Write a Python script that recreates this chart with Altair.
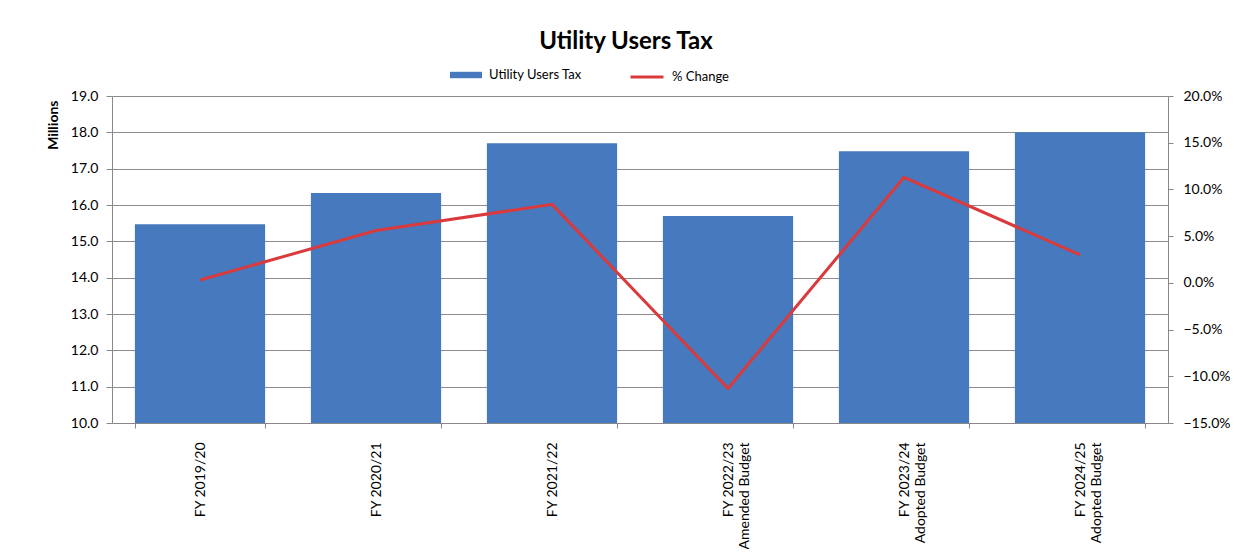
import altair as alt
import pandas as pd

# ---- data ----
categories = [
    "FY 2019/20",
    "FY 2020/21",
    "FY 2021/22",
    "FY 2022/23\nAmended Budget",
    "FY 2023/24\nAdopted Budget",
    "FY 2024/25\nAdopted Budget",
]
tax_millions = [15.47, 16.33, 17.70, 15.70, 17.48, 18.00]
pct_change = [0.003, 0.056, 0.084, -0.113, 0.113, 0.030]

left_ticks = [10.0, 11.0, 12.0, 13.0, 14.0, 15.0, 16.0, 17.0, 18.0, 19.0]
right_ticks = [-0.15, -0.10, -0.05, 0.0, 0.05, 0.10, 0.15, 0.20]

bar_series = "Utility Users Tax"
line_series = "% Change"

df = pd.DataFrame({
    "category": categories,
    "tax": tax_millions,
    "pct": pct_change,
    "s1": bar_series,
    "s2": line_series,
})

FONT = "Lato"
BLUE = "#4679BE"
RED = "#DB3A3C"
AXIS_GRAY = "#888888"
GRID_GRAY = "#8C8C8C"

x_enc = alt.X(
    "category:N",
    sort=categories,
    title=None,
    scale=alt.Scale(paddingInner=0.26, paddingOuter=0.13),
    axis=alt.Axis(
        labelAngle=-90,
        labelExpr="split(datum.label, '\\n')",
        tickBand="extent",
        tickSize=5,
        labelPadding=14,
        labelFont=FONT,
        labelFontSize=14,
        labelColor="#000000",
        labelLineHeight=16,
        domainColor=AXIS_GRAY,
        tickColor=AXIS_GRAY,
    ),
)

bars = alt.Chart(df).mark_bar(color=BLUE).encode(
    x=x_enc,
    y=alt.Y(
        "tax:Q",
        title="Millions",
        scale=alt.Scale(domain=[10, 19], zero=False, nice=False),
        axis=alt.Axis(
            values=left_ticks,
            format=".1f",
            grid=True,
            gridColor=GRID_GRAY,
            gridWidth=1,
            tickSize=6,
            labelPadding=8,
            labelFont=FONT,
            labelFontSize=14,
            labelColor="#000000",
            domainColor=AXIS_GRAY,
            tickColor=AXIS_GRAY,
            titleFont=FONT,
            titleFontSize=14,
            titleFontWeight="bold",
            titleColor="#000000",
            titleAnchor="end",
            titlePadding=10,
            titleY=4,
        ),
    ),
    y2=alt.datum(10),
    fill=alt.Fill(
        "s1:N",
        scale=alt.Scale(domain=[bar_series], range=[BLUE]),
        legend=alt.Legend(
            title=None,
            orient="none",
            legendX=338,
            legendY=-37,
            direction="horizontal",
            symbolType="M-1,-0.2H1V0.2H-1Z",
            symbolSize=1024,
            symbolStrokeWidth=0,
            labelFont=FONT,
            labelFontSize=13,
            labelColor="#000000",
            labelOffset=7,
            padding=0,
        ),
    ),
)

line = alt.Chart(df).mark_line(strokeWidth=3, color=RED).encode(
    x=x_enc,
    y=alt.Y(
        "pct:Q",
        title=None,
        scale=alt.Scale(domain=[-0.15, 0.20], nice=False, zero=False),
        axis=alt.Axis(
            orient="right",
            values=right_ticks,
            format=".1%",
            grid=False,
            tickSize=5,
            labelPadding=10,
            labelFont=FONT,
            labelFontSize=14,
            labelColor="#000000",
            domainColor=AXIS_GRAY,
            tickColor=AXIS_GRAY,
        ),
    ),
    stroke=alt.Stroke(
        "s2:N",
        scale=alt.Scale(domain=[line_series], range=[RED]),
        legend=alt.Legend(
            title=None,
            orient="none",
            legendX=517,
            legendY=-37,
            direction="horizontal",
            symbolType="M-1,0H1",
            symbolSize=1089,
            symbolStrokeWidth=3,
            labelFont=FONT,
            labelFontSize=13,
            labelColor="#000000",
            labelOffset=7,
            padding=0,
        ),
    ),
)

chart = (
    alt.layer(bars, line)
    .resolve_scale(y="independent", fill="independent", stroke="independent")
    .properties(
        width=1056,
        height=327,
        padding={"left": 104, "top": 88, "right": 68, "bottom": 126},
        autosize=alt.AutoSizeParams(type="none"),
        title=alt.Title(
            "Utility Users Tax",
            font=FONT,
            fontSize=24,
            fontWeight="bold",
            color="#000000",
            anchor="middle",
            frame="group",
            dx=-14,
            offset=5,
        ),
    )
    .configure_view(strokeWidth=0)
    .configure(background="#ffffff")
)

chart.save("out.html", embed_options={"renderer": "svg", "actions": False})
